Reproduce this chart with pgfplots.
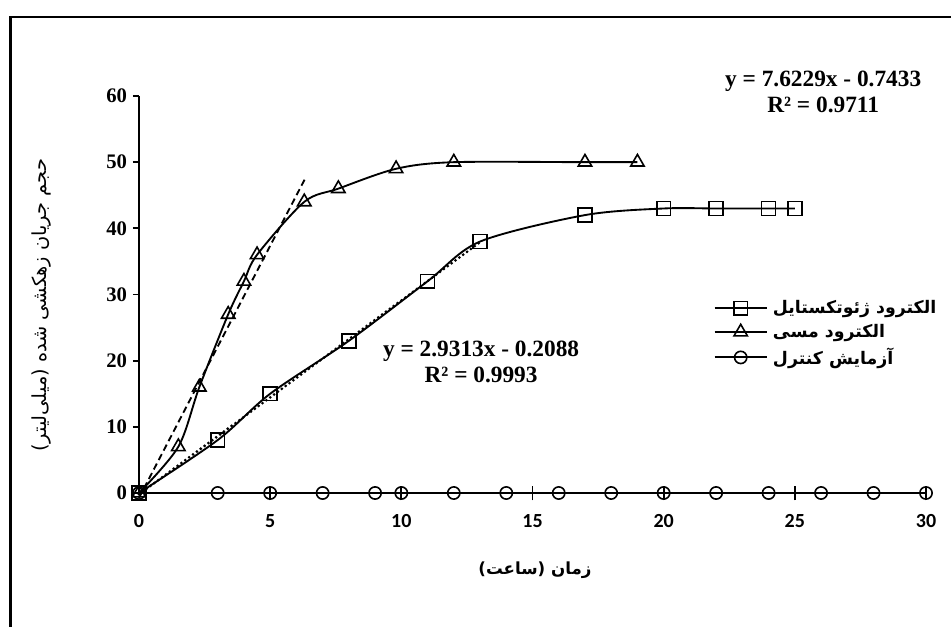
\documentclass[border=0pt]{standalone}
\usepackage{fontspec}
\setmainfont{Liberation Serif}
\newfontfamily\fa[Script=Arabic]{DejaVu Sans}
\newfontfamily\tickfont{Carlito}
\TeXXeTstate=1
\usepackage{pgfplots}
\pgfplotsset{compat=1.18}

\begin{document}
\begin{tikzpicture}
\useasboundingbox (0,0) rectangle (713.25pt,469.5pt);
% outer frame (only left and top edges visible)
\draw[line width=1.6pt] (7.9pt,-3pt) -- (7.9pt,456.75pt) -- (716pt,456.75pt);

\begin{axis}[
  at={(104.25pt,99.75pt)}, anchor=south west,
  scale only axis, width=590.25pt, height=297.75pt,
  xmin=0, xmax=30, ymin=0, ymax=60,
  axis lines=left,
  axis line style={-, line width=1.6pt},
  xtick={0,5,...,30}, ytick={0,10,...,60},
  xtick style={draw=none},
  ytick align=outside, major tick length=4.5pt,
  ytick style={line width=1.3pt, black},
  /pgf/number format/assume math mode=true,
  yticklabel style={font=\bfseries\fontsize{15.5}{15.5}\selectfont, xshift=-1pt},
  xticklabel style={font=\tickfont\bfseries\fontsize{15}{15}\selectfont, yshift=-10pt},
  clip=false,
  legend style={at={(axis cs:21.9,29.5)}, anchor=north west, draw=none, fill=none,
    font=\fa\bfseries\fontsize{13}{13}\selectfont, row sep=2.4pt, inner sep=0pt,
    nodes={inner xsep=4pt}},
  legend cell align=left,
  legend image code/.code={\draw[mark repeat=2,mark phase=2, line width=1.4pt]
    plot coordinates {(0pt,0pt) (19.5pt,0pt) (39pt,0pt)};},
]

% geotextile electrode
\addplot[black, line width=1.4pt, smooth, mark=square, mark size=5.2pt,
  mark options={line width=1.2pt, solid}] coordinates {
  (0,0) (3,8) (5,15) (8,23) (11,32) (13,38) (17,42) (20,43) (22,43) (24,43) (25,43)
};
\addlegendentry{\beginR الکترود ژئوتکستایل\endR}

% copper electrode
\addplot[black, line width=1.4pt, smooth, mark=triangle, mark size=5.8pt,
  mark options={fill=white, line width=1.2pt, solid}] coordinates {
  (0,0) (1.5,7) (2.3,16) (3.4,27) (4,32) (4.5,36) (6.3,44) (7.6,46) (9.8,49)
  (12,50) (17,50) (19,50)
};
\addlegendentry{\beginR الکترود مسی\endR}

% control test
\addplot[black, line width=1.4pt, mark=o, mark size=4.6pt,
  mark options={fill=white, line width=1.2pt, solid}] coordinates {
  (0,0) (3,0) (5,0) (7,0) (9,0) (10,0) (12,0) (14,0) (16,0) (18,0) (20,0)
  (22,0) (24,0) (26,0) (28,0) (30,0)
};
\addlegendentry{\beginR آزمایش کنترل\endR}

% linear trendlines
\addplot[forget plot, black, line width=1.4pt, dash pattern=on 5pt off 3pt] coordinates {
  (0,-0.74) (6.37,47.8)
};
\addplot[forget plot, black, line width=2.3pt, line cap=round, dash pattern=on 0pt off 3.6pt] coordinates {
  (0,-0.21) (13,37.9)
};

% x ticks crossing the axis, drawn over the markers
\pgfplotsinvokeforeach{5,10,15,20,25,30}{
  \draw[line width=1.3pt] (axis cs:#1,-1.1) -- (axis cs:#1,1.1);
}

\node[align=center, font=\bfseries\fontsize{17.5}{19}\selectfont] at (axis cs:13.04,19.8)
  {y = 2.9313x - 0.2088\\R² = 0.9993};
\node[align=center, font=\bfseries\fontsize{17.5}{19}\selectfont] at (axis cs:26.08,60.6)
  {y = 7.6229x - 0.7433\\R² = 0.9711};
\end{axis}

\node[rotate=90, font=\fa\fontsize{14.5}{14.5}\selectfont] at (31.5pt,240.75pt)
  {\beginR حجم جریان زهکشی شده (میلی‌لیتر)\endR};
\node[font=\fa\bfseries\fontsize{12.5}{12.5}\selectfont] at (401.25pt,42pt)
  {\beginR زمان (ساعت)\endR};
\end{tikzpicture}
\end{document}
